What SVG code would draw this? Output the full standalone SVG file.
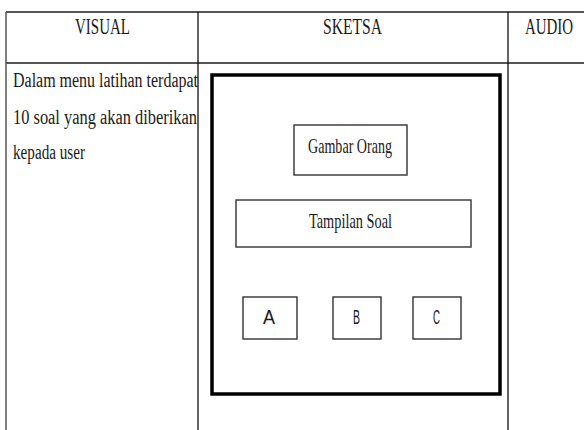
<svg xmlns="http://www.w3.org/2000/svg" width="584" height="430" viewBox="0 0 584 430">
<style>
.hline{stroke:#555;stroke-width:2;fill:none}
.vline{stroke:#111;stroke-width:1.3;fill:none}
.frame{stroke:#000;stroke-width:3.5;fill:#fff}
.box{stroke:#333;stroke-width:1.4;fill:#fff}
.serif{font-family:"Liberation Serif","Times New Roman",serif;fill:#1a1a1a}
.sans{font-family:"Liberation Sans",Arial,sans-serif;fill:#1a1a1a}
</style>
<rect width="584" height="430" fill="#fff"/>
<g id="table">
<line class="hline" x1="6" y1="12" x2="584" y2="12"/>
<line class="hline" x1="6" y1="63" x2="584" y2="63"/>
<line class="hline" x1="6" y1="12" x2="6" y2="430" style="stroke-width:1.5"/>
<line class="vline" x1="198" y1="12" x2="198" y2="430"/>
<line class="vline" x1="508" y1="12" x2="508" y2="430"/>
<text class="serif" x="75" y="34" font-size="23" textLength="55" lengthAdjust="spacingAndGlyphs">VISUAL</text>
<text class="serif" x="323" y="34" font-size="23" textLength="59" lengthAdjust="spacingAndGlyphs">SKETSA</text>
<text class="serif" transform="translate(525,34) scale(0.65,1)" x="0" y="0" font-size="23">AUDIO</text>
</g>
<g id="visual-text">
<text class="serif" x="13" y="87" font-size="20" textLength="185" lengthAdjust="spacingAndGlyphs">Dalam menu latihan terdapat</text>
<text class="serif" x="13" y="124" font-size="20" textLength="184" lengthAdjust="spacingAndGlyphs">10 soal yang akan diberikan</text>
<text class="serif" x="13" y="159" font-size="20" textLength="72" lengthAdjust="spacingAndGlyphs">kepada user</text>
</g>
<g id="screen">
<rect class="frame" x="212" y="75" width="288" height="319"/>
</g>
<g id="gambar-orang">
<rect class="box" x="294" y="125" width="113" height="50"/>
<text class="serif" x="308" y="153" font-size="22" textLength="84" lengthAdjust="spacingAndGlyphs">Gambar Orang</text>
</g>
<g id="tampilan-soal">
<rect class="box" x="236" y="200" width="235" height="47"/>
<text class="serif" x="309" y="228" font-size="22" textLength="83" lengthAdjust="spacingAndGlyphs">Tampilan Soal</text>
</g>
<g id="option-a">
<rect class="box" x="243" y="297" width="54" height="42"/>
<text class="sans" x="263" y="324" font-size="20" textLength="12" lengthAdjust="spacingAndGlyphs">A</text>
</g>
<g id="option-b">
<rect class="box" x="333" y="297" width="48" height="42"/>
<text class="sans" x="353" y="324" font-size="20" textLength="7" lengthAdjust="spacingAndGlyphs">B</text>
</g>
<g id="option-c">
<rect class="box" x="413" y="297" width="48" height="42"/>
<text class="sans" x="433" y="324" font-size="20" textLength="7" lengthAdjust="spacingAndGlyphs">C</text>
</g>
<g id="connectors"></g>
</svg>
